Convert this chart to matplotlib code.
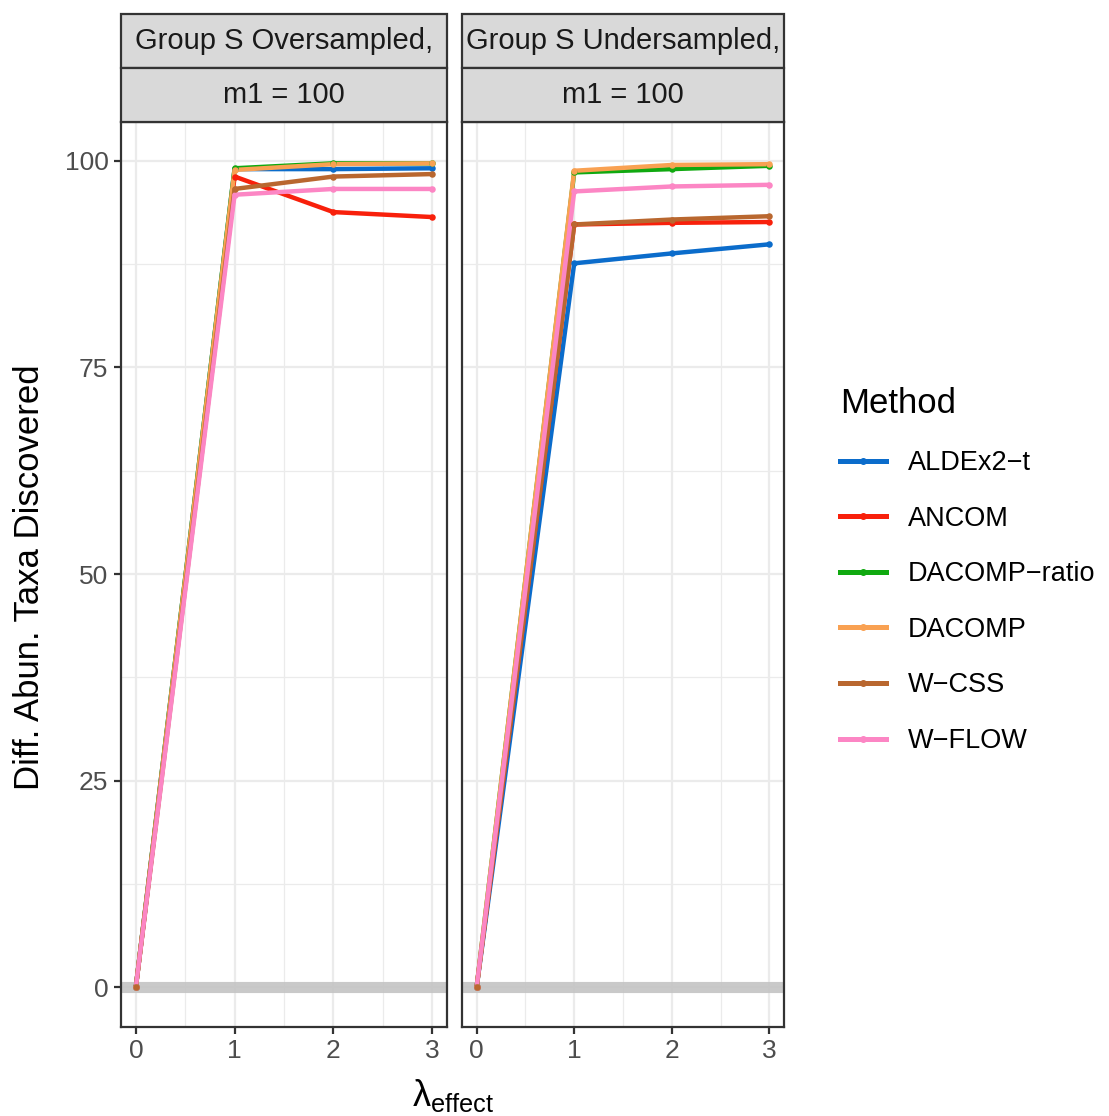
import numpy as np
import matplotlib
matplotlib.use('Agg')
import matplotlib.pyplot as plt
from matplotlib.lines import Line2D
from matplotlib.patches import Rectangle

plt.rcParams['font.family'] = ['Liberation Sans', 'DejaVu Sans']
plt.rcParams['mathtext.fontset'] = 'custom'
plt.rcParams['mathtext.rm'] = 'Liberation Sans'
plt.rcParams['mathtext.it'] = 'Liberation Sans:italic'

# data
lam = [0, 1, 2, 3]
methods = ['ALDEx2\u2212t', 'ANCOM', 'DACOMP\u2212ratio', 'DACOMP', 'W\u2212CSS', 'W\u2212FLOW']
colors = ['#0B6CCB', '#F8200B', '#10A910', '#F9A152', '#B9672F', '#FC86C4']

panel_titles = ['Group S Oversampled,', 'Group S Undersampled,']
panel_sub = 'm1 = 100'

over = {
    'ALDEx2\u2212t':   [0, 99.0, 99.0, 99.1],
    'ANCOM':          [0, 98.1, 93.8, 93.2],
    'DACOMP\u2212ratio': [0, 99.1, 99.7, 99.7],
    'DACOMP':         [0, 98.9, 99.6, 99.7],
    'W\u2212CSS':      [0, 96.6, 98.1, 98.4],
    'W\u2212FLOW':     [0, 95.9, 96.6, 96.6],
}
under = {
    'ALDEx2\u2212t':   [0, 87.6, 88.8, 89.9],
    'ANCOM':          [0, 92.3, 92.5, 92.6],
    'DACOMP\u2212ratio': [0, 98.6, 99.0, 99.4],
    'DACOMP':         [0, 98.8, 99.5, 99.6],
    'W\u2212CSS':      [0, 92.3, 92.9, 93.3],
    'W\u2212FLOW':     [0, 96.3, 96.9, 97.1],
}

W, H = 1109, 1116
fig = plt.figure(figsize=(W / 100, H / 100), dpi=100)

panels = [(121, 447, over), (462, 784, under)]
top_px, bot_px = 122, 1027
strip_h = 54

for i, (x0, x1, data) in enumerate(panels):
    ax = fig.add_axes([x0 / W, 1 - bot_px / H, (x1 - x0) / W, (bot_px - top_px) / H])
    ax.set_xlim(-0.15, 3.15)
    ax.set_ylim(-4.8, 104.7)
    ax.set_xticks([0, 1, 2, 3])
    ax.set_xticks([0.5, 1.5, 2.5], minor=True)
    ax.set_yticks([0, 25, 50, 75, 100])
    ax.set_yticks([12.5, 37.5, 62.5, 87.5], minor=True)
    ax.grid(True, which='major', color='#EBEBEB', lw=1.6, zorder=0)
    ax.grid(True, which='minor', color='#EBEBEB', lw=0.9, zorder=0)
    ax.set_axisbelow(True)
    for s in ax.spines.values():
        s.set_color('#333333')
        s.set_linewidth(1.6)
    ax.tick_params(axis='both', which='major', colors='#333333', width=1.6, length=5,
                   labelsize=19, labelcolor='#4D4D4D', pad=4)
    ax.tick_params(axis='both', which='minor', length=0)
    if i == 1:
        ax.tick_params(axis='y', which='major', left=False, labelleft=False)

    ax.axhline(0, color='#C4C4C4', lw=8, alpha=0.9, zorder=1)

    for m, c in zip(methods, colors):
        ax.plot(lam, data[m], color=c, lw=3.2, solid_capstyle='butt', zorder=2)
    point_order = [0, 1, 2, 3, 5, 4]
    for k in point_order:
        m, c = methods[k], colors[k]
        ax.scatter(lam, data[m], color=c, s=22, zorder=3, linewidths=0)

    # strips
    for j, txt in enumerate([panel_titles[i], panel_sub]):
        y_top = 14 + j * strip_h
        rect = Rectangle((x0 / W, 1 - (y_top + strip_h) / H), (x1 - x0) / W, strip_h / H,
                         transform=fig.transFigure, facecolor='#D9D9D9', edgecolor='#333333',
                         lw=1.6)
        fig.add_artist(rect)
        fig.text((x0 + x1) / 2 / W, 1 - (y_top + strip_h / 2) / H, txt, ha='center',
                 va='center', fontsize=21, color='#1A1A1A')

fig.text(30 / W, 1 - 577 / H, 'Diff. Abun. Taxa Discovered', rotation=90, ha='center',
         va='center', fontsize=25, color='black')
fig.text(453 / W, 1 - 1096 / H, r'$\mathregular{\lambda_{effect}}$', ha='center',
         va='center', fontsize=26, color='black')

handles = [Line2D([0], [0], color=c, lw=3.6, marker='o', markersize=4) for c in colors]
leg = fig.legend(handles, methods, loc='upper left', bbox_to_anchor=(829 / W, 1 - 376 / H),
                 frameon=False, fontsize=19.5, title='Method', title_fontsize=25,
                 handlelength=1.7, handletextpad=0.8, labelspacing=1.09,
                 alignment='left', borderaxespad=0)
leg._legend_box.sep = 22

fig.savefig('out.png', dpi=100)
